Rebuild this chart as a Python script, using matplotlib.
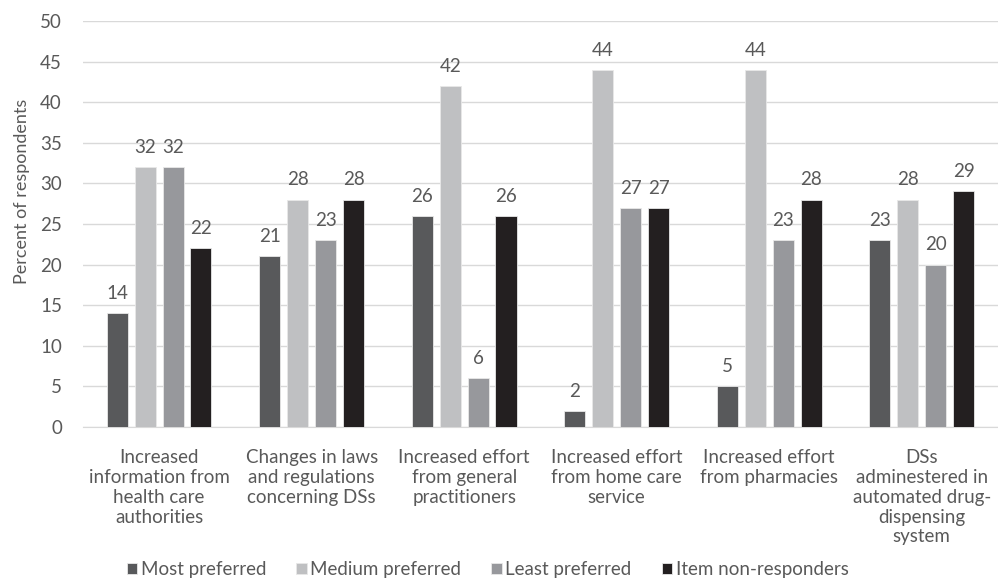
import numpy as np
import matplotlib.pyplot as plt

categories = ['Increased\ninformation from\nhealth care\nauthorities',
              'Changes in laws\nand regulations\nconcerning DSs',
              'Increased effort\nfrom general\npractitioners',
              'Increased effort\nfrom home care\nservice',
              'Increased effort\nfrom pharmacies',
              'DSs\nadminestered in\nautomated drug-\ndispensing\nsystem']
most = [14, 21, 26, 2, 5, 23]
medium = [32, 28, 42, 44, 44, 28]
least = [32, 23, 6, 27, 23, 20]
nonresp = [22, 28, 26, 27, 28, 29]

series = [('Most preferred', most, '#58595b'),
          ('Medium preferred', medium, '#bfc0c2'),
          ('Least preferred', least, '#97989c'),
          ('Item non-responders', nonresp, '#231f20')]

plt.rcParams['font.family'] = ['Lato', 'DejaVu Sans']
txt = '#595959'
fs = 13.5

fig = plt.figure(figsize=(9.98, 5.81), dpi=100)
ax = fig.add_axes([0.083, 0.265, 0.917, 0.699])

ind = np.arange(len(categories))
width = 0.138
step = 0.183
for i, (name, vals, col) in enumerate(series):
    rects = ax.bar(ind + (i - 1.5) * step, vals, width, color=col, label=name,
                   edgecolor='#e8e8e8', linewidth=0.6, zorder=3)
    ax.bar_label(rects, padding=8, fontsize=fs, color=txt)

ax.set_xlim(-0.5, len(categories) - 0.5)
ax.set_ylim(0, 50)
ax.set_yticks(range(0, 51, 5))
ax.set_xticks(ind)
ax.set_xticklabels(categories, fontsize=fs, color=txt, linespacing=1.2)
ax.tick_params(axis='y', labelsize=fs, colors=txt, length=0, pad=15)
ax.tick_params(axis='x', length=0, pad=16)
ax.grid(axis='y', color='#d9d9d9', linewidth=1, zorder=0)
for s in ['top', 'right', 'left']:
    ax.spines[s].set_visible(False)
ax.spines['bottom'].set_color('#d9d9d9')
ax.set_ylabel('Percent of respondents', fontsize=13, color=txt)
ax.yaxis.set_label_coords(-0.058, 0.58)

fig.legend(loc='center left', bbox_to_anchor=(0.127, 0.02), ncol=4, frameon=False,
           fontsize=fs, labelcolor=txt, handlelength=0.55, handleheight=0.55,
           handletextpad=0.2, columnspacing=1.6, borderpad=0, borderaxespad=0)

fig.savefig('out.png', dpi=100)
